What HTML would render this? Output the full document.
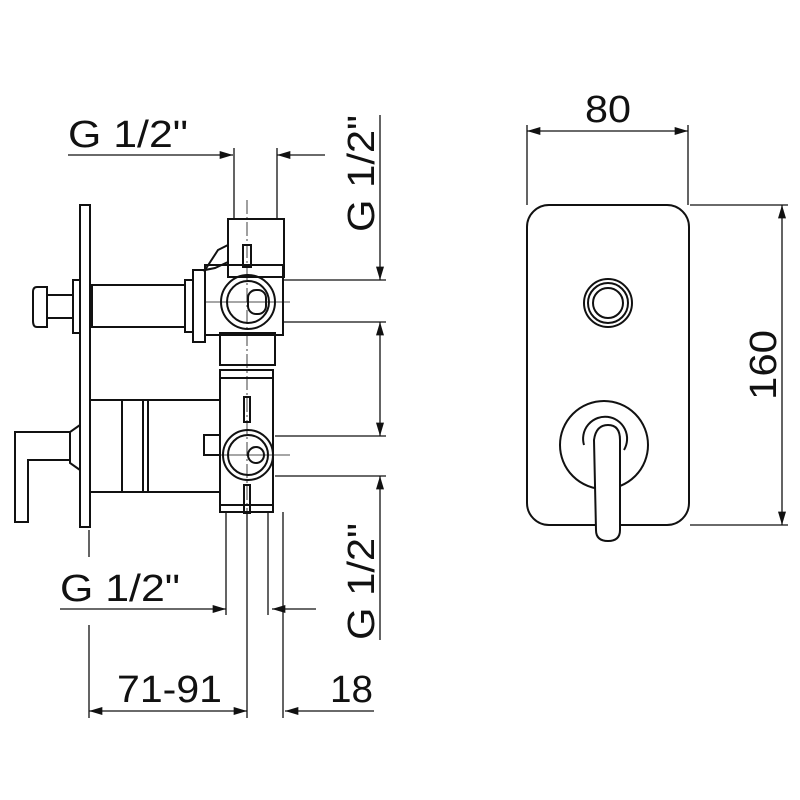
<!DOCTYPE html>
<html><head><meta charset="utf-8"><style>
html,body{margin:0;padding:0;background:#fff}
svg{display:block}
text{font-family:"Liberation Sans",sans-serif;fill:#111}
</style></head><body>
<svg width="800" height="800" viewBox="0 0 800 800" xmlns="http://www.w3.org/2000/svg">
<defs>
<marker id="a" viewBox="0 0 10 6" refX="10" refY="3" markerWidth="18" markerHeight="8" markerUnits="userSpaceOnUse" orient="auto"><path d="M0,0 L10,3 L0,6 Z" fill="#111"/></marker>
</defs>
<g stroke="#111" fill="none" stroke-width="1.3">
<line x1="68" y1="155" x2="233" y2="155" marker-end="url(#a)"/>
<line x1="325" y1="155" x2="277" y2="155" marker-end="url(#a)"/>
<line x1="234" y1="148" x2="234" y2="220"/>
<line x1="277" y1="148" x2="277" y2="220"/>
<line x1="380" y1="115" x2="380" y2="280" marker-end="url(#a)"/>
<line x1="380" y1="360" x2="380" y2="322" marker-end="url(#a)"/>
<line x1="380" y1="360" x2="380" y2="436" marker-end="url(#a)"/>
<line x1="380" y1="640" x2="380" y2="476" marker-end="url(#a)"/>
<line x1="283" y1="280" x2="386" y2="280"/>
<line x1="283" y1="322" x2="386" y2="322"/>
<line x1="275" y1="436" x2="386" y2="436"/>
<line x1="275" y1="476" x2="386" y2="476"/>
<line x1="60" y1="609" x2="226" y2="609" marker-end="url(#a)"/>
<line x1="316" y1="609" x2="272" y2="609" marker-end="url(#a)"/>
<line x1="226" y1="512" x2="226" y2="615"/>
<line x1="268" y1="512" x2="268" y2="615"/>
<line x1="247" y1="512" x2="247" y2="718"/>
<line x1="283" y1="512" x2="283" y2="718"/>
<line x1="89" y1="530" x2="89" y2="557"/>
<line x1="89" y1="625" x2="89" y2="718"/>
<line x1="168" y1="711" x2="89" y2="711" marker-end="url(#a)"/>
<line x1="168" y1="711" x2="247" y2="711" marker-end="url(#a)"/>
<line x1="374" y1="711" x2="285" y2="711" marker-end="url(#a)"/>
<line x1="247" y1="200" x2="247" y2="515" stroke-width="0.8" stroke-dasharray="14 3 2 3"/>
<line x1="205" y1="302" x2="290" y2="302" stroke-width="0.8"/>
<line x1="205" y1="455" x2="290" y2="455" stroke-width="0.8"/>
</g>
<g stroke="#111" fill="none" stroke-width="2">
<rect x="80" y="205" width="10" height="322"/>
<path d="M47,287 L37,287 Q33,287 33,292 L33,321 Q33,327 37,327 L47,327 Z"/>
<rect x="47" y="295" width="26" height="23"/>
<rect x="73" y="280" width="7" height="53"/>
<rect x="92" y="285" width="93" height="42"/>
<rect x="185" y="280" width="8" height="52"/>
<rect x="193" y="270" width="12" height="72"/>
<path d="M205,270 L218,250 L228,245 L228,262 L215,268 Z"/>
<rect x="228" y="219" width="56" height="58"/>
<rect x="243" y="245" width="8" height="22"/>
<path d="M205,265 L283,265 L283,335 L205,335 Z"/>
<circle cx="248" cy="302" r="27"/>
<circle cx="248" cy="302" r="21"/>
<rect x="248" y="290" width="18" height="24" rx="8"/>
<rect x="220" y="333" width="55" height="32"/>
<rect x="220" y="370" width="53" height="142"/>
<line x1="220" y1="378" x2="273" y2="378"/>
<line x1="220" y1="505" x2="273" y2="505"/>
<rect x="90" y="400" width="130" height="92"/>
<line x1="122" y1="400" x2="122" y2="492"/>
<line x1="143" y1="400" x2="143" y2="492"/>
<line x1="148" y1="400" x2="148" y2="492"/>
<rect x="204" y="435" width="16" height="20"/>
<circle cx="248" cy="455" r="25"/>
<circle cx="248" cy="455" r="20"/>
<circle cx="256" cy="455" r="8"/>
<rect x="244" y="397" width="6" height="25"/>
<rect x="244" y="485" width="6" height="28"/>
<path d="M80,425 L70,432 L70,463 L80,470"/>
<path d="M70,432 L15,432 L15,522 L28,522 L28,460 L70,460"/>
<rect x="527" y="205" width="162" height="320" rx="22"/>
<circle cx="608" cy="303" r="24"/>
<circle cx="608" cy="303" r="20"/>
<circle cx="608" cy="303" r="15"/>
<circle cx="604" cy="445" r="44"/>
<path d="M584,445 A22,22 0 1 1 624,450"/>
<path d="M594,440 Q596,425 608,425 Q620,425 620,440 L620,530 Q620,541 608,541 Q596,541 596,530 Z" fill="#fff"/>
</g>
<g stroke="#111" fill="none" stroke-width="1.3">
<line x1="527" y1="125" x2="527" y2="205"/>
<line x1="688" y1="125" x2="688" y2="205"/>
<line x1="608" y1="131" x2="527" y2="131" marker-end="url(#a)"/>
<line x1="608" y1="131" x2="688" y2="131" marker-end="url(#a)"/>
<line x1="690" y1="205" x2="788" y2="205"/>
<line x1="690" y1="525" x2="788" y2="525"/>
<line x1="782" y1="365" x2="782" y2="205" marker-end="url(#a)"/>
<line x1="782" y1="365" x2="782" y2="525" marker-end="url(#a)"/>
</g>
<g font-size="38">
<text x="68" y="147" textLength="120" lengthAdjust="spacingAndGlyphs">G 1/2"</text>
<text x="60" y="601" textLength="120" lengthAdjust="spacingAndGlyphs">G 1/2"</text>
<text x="117" y="702" textLength="105" lengthAdjust="spacingAndGlyphs">71-91</text>
<text x="330" y="702" textLength="43" lengthAdjust="spacingAndGlyphs">18</text>
<text x="585" y="122" textLength="46" lengthAdjust="spacingAndGlyphs">80</text>
<text transform="translate(776,400) rotate(-90)" textLength="70" lengthAdjust="spacingAndGlyphs">160</text>
<text transform="translate(374,232) rotate(-90)" textLength="117" lengthAdjust="spacingAndGlyphs">G 1/2"</text>
<text transform="translate(374,640) rotate(-90)" textLength="117" lengthAdjust="spacingAndGlyphs">G 1/2"</text>
</g>
</svg>
</body></html>
